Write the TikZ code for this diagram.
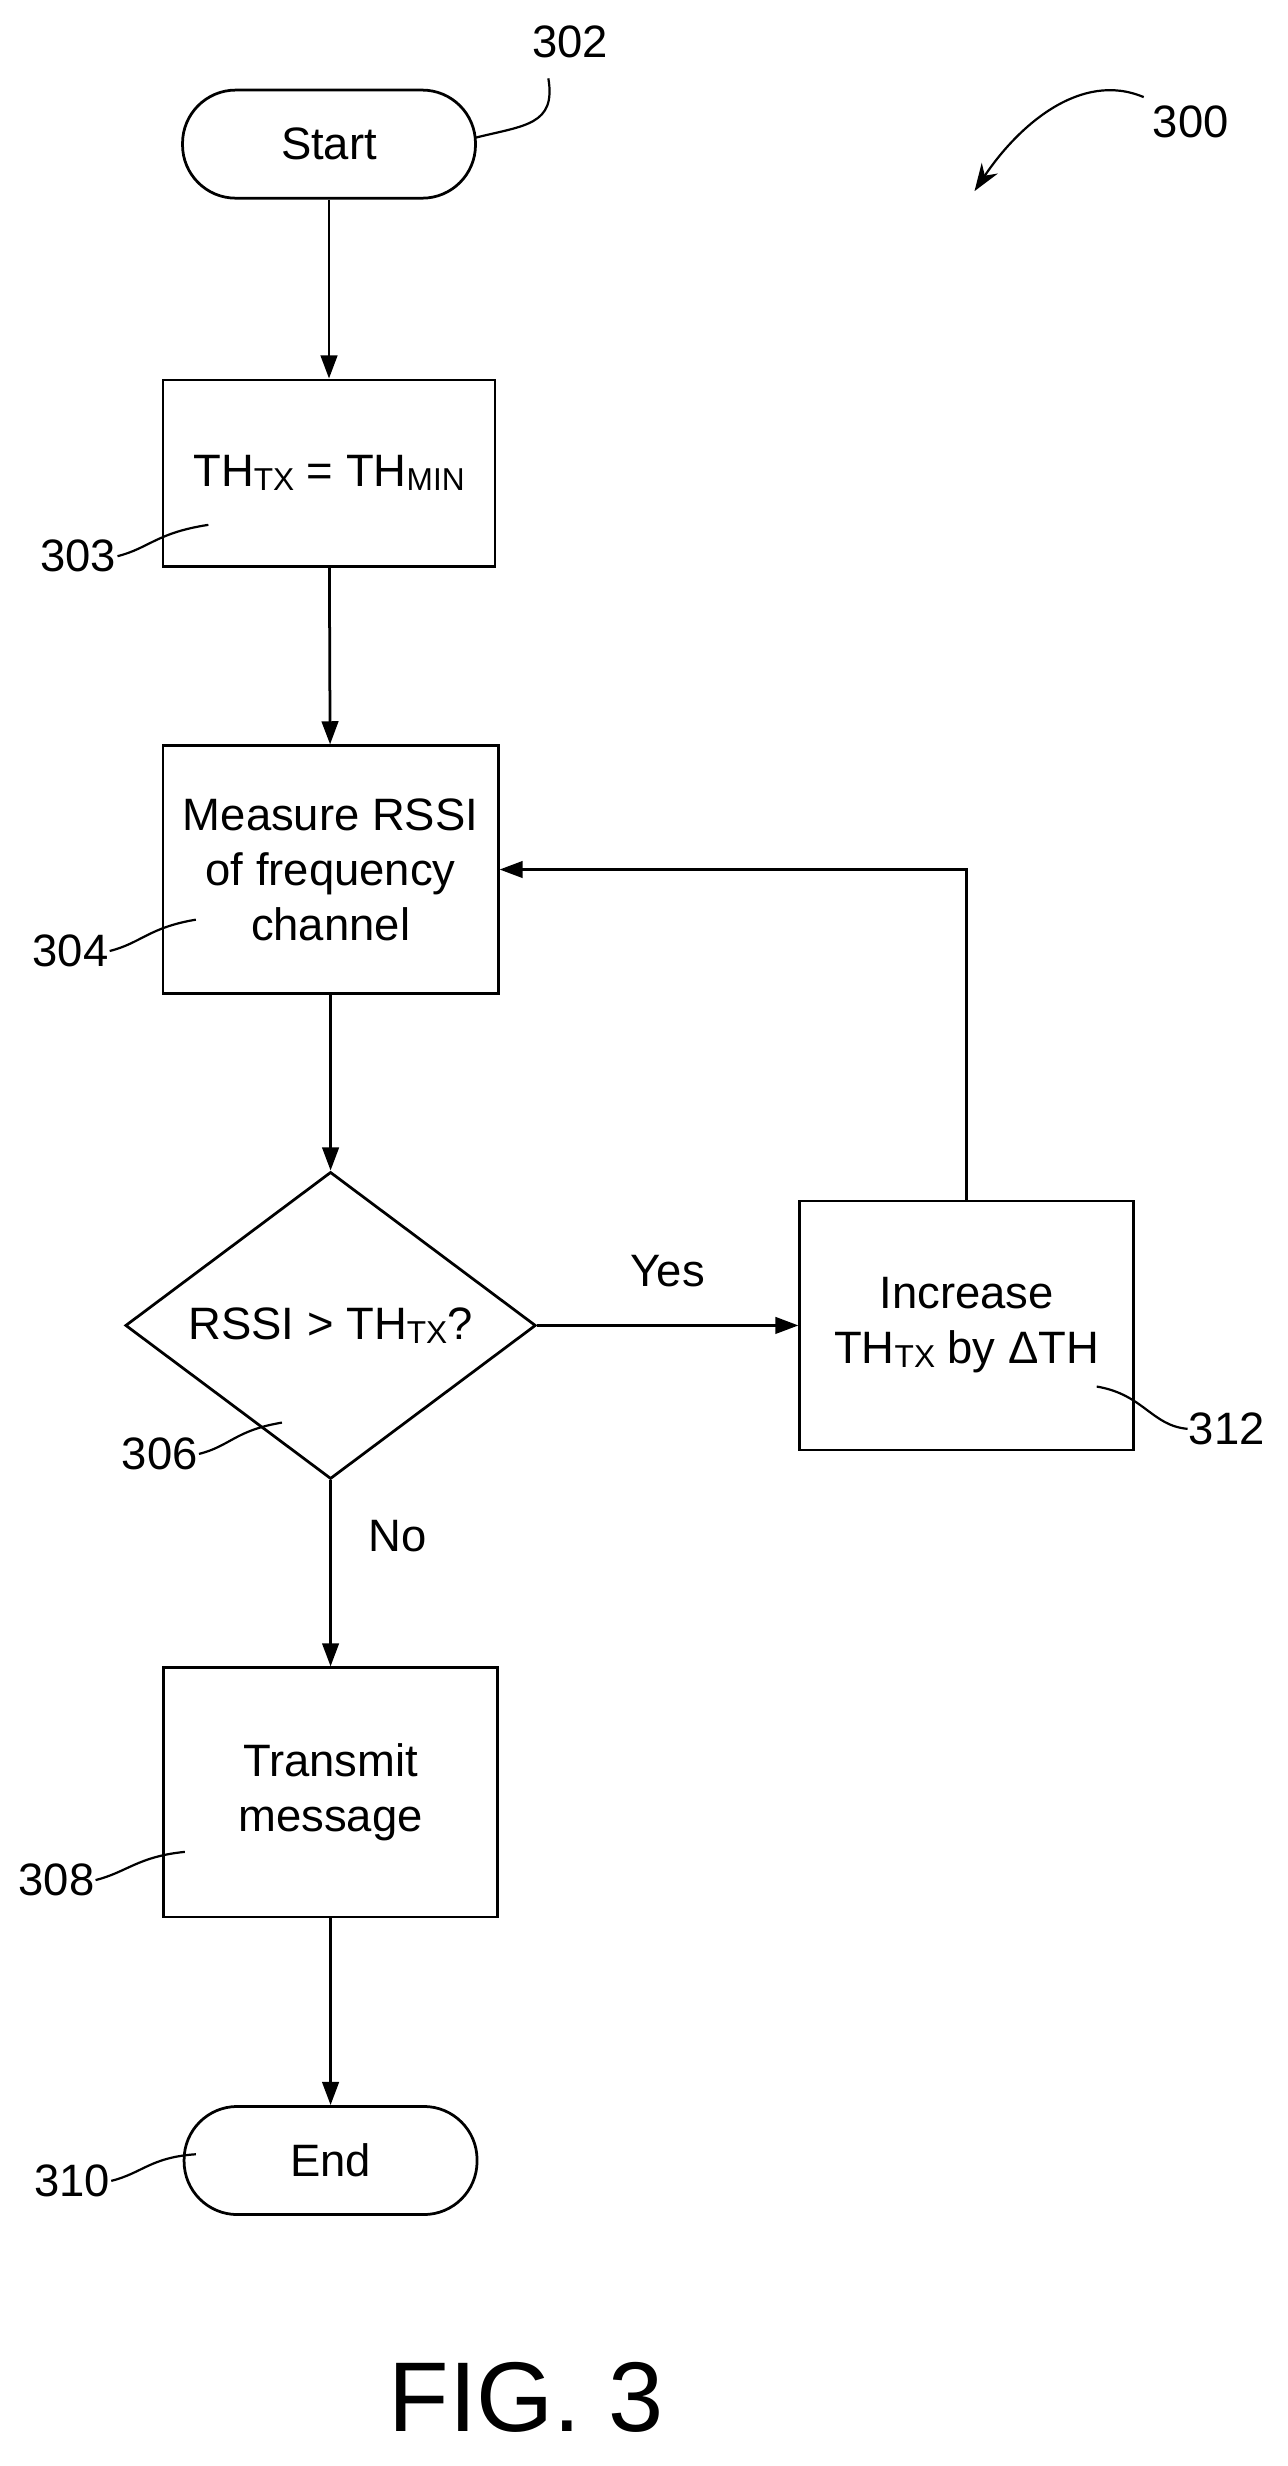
\documentclass[tikz,border=0pt]{standalone}
\usepackage{fontspec}
\setmainfont{Liberation Sans}
\usetikzlibrary{shapes.geometric,arrows.meta}
\newcommand{\sbx}[1]{\raisebox{-0.15ex}{\fontsize{11.5}{12}\selectfont #1}}
\begin{document}
\begin{tikzpicture}[x=0.02cm,y=-0.02cm,
  every node/.style={font=\fontsize{16.5}{20}\selectfont},
  box/.style={draw,line width=1pt,minimum width=213*0.02cm,minimum height=159*0.02cm,align=center},
  term/.style={draw,line width=1pt,rounded corners=34*0.02cm,minimum width=187*0.02cm,minimum height=69*0.02cm},
  dia/.style={draw,line width=1pt,diamond,minimum width=262*0.02cm,minimum height=196*0.02cm,inner sep=0pt,aspect=1.34},
  arr/.style={line width=1pt,-{Triangle[length=14pt*0.6,width=10pt*0.6]}},
  lead/.style={line width=0.8pt}]
\useasboundingbox (0,0) rectangle (822,1574);
\node[term] (start) at (210,92) {Start};
\node[box,minimum height=119*0.02cm,minimum width=212*0.02cm] (b303) at (210,302) {TH\sbx{TX} = TH\sbx{MIN}};
\node[box,minimum width=214*0.02cm,minimum height=158*0.02cm] (b304) at (211,555) {Measure RSSI\\of frequency\\channel};
\node[dia] (d306) at (211,846) {RSSI > TH\sbx{TX}?};
\node[box] (b312) at (617,846) {Increase\\TH\sbx{TX} by ΔTH};
\node[box] (b308) at (211,1144) {Transmit\\message};
\node[term] (end) at (211,1379) {End};
\draw[arr] (start) -- (b303);
\draw[arr] (b303) -- (b304);
\draw[arr] (b304) -- (d306.north);
\draw[arr] (d306.east) -- node[above=10pt]{Yes} (b312.west);
\draw[arr] (d306.south) -- node[right=10pt,pos=0.3]{No} (b308);
\draw[arr] (b308) -- (end);
\coordinate (lp) at (617,555);
\draw[arr] (b312.north) -- (lp) -- (b304.east);
% labels
\node (l302) at (364,27) {302};
\draw[lead] (303,88) .. controls (335,80) and (355,80) .. (350,50);
\node (l300) at (760,78) {300};
\draw[lead,-{Stealth[length=10pt,width=7pt]}] (730,62) .. controls (690,45) and (650,80) .. (622,122);
\node (l303) at (50,355) {303};
\draw[lead] (75,355) .. controls (95,350) and (100,340) .. (133,335);
\node (l304) at (45,607) {304};
\draw[lead] (70,607) .. controls (90,602) and (95,592) .. (125,587);
\node (l306) at (102,928) {306};
\draw[lead] (127,928) .. controls (147,923) and (150,913) .. (180,908);
\node (l312) at (783,912) {312};
\draw[lead] (700,885) .. controls (730,890) and (735,910) .. (758,912);
\node (l308) at (36,1200) {308};
\draw[lead] (61,1200) .. controls (81,1195) and (88,1185) .. (118,1182);
\node (l310) at (46,1392) {310};
\draw[lead] (71,1392) .. controls (91,1387) and (96,1377) .. (125,1375);
\node[font=\fontsize{36}{40}\selectfont] (fig) at (336,1530) {FIG. 3};
\end{tikzpicture}
\end{document}
